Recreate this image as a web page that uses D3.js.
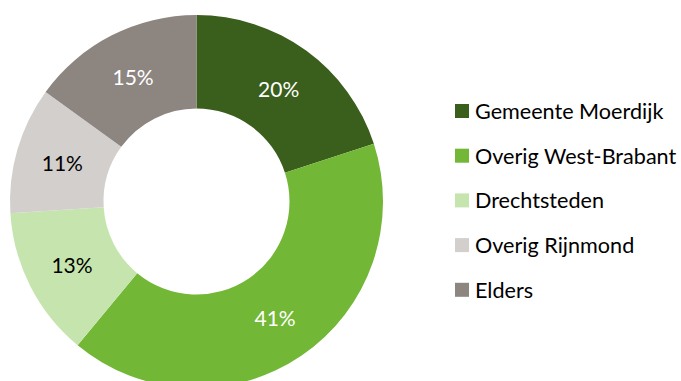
<!DOCTYPE html>
<html>
<head>
<meta charset="utf-8">
<script src="https://cdn.jsdelivr.net/npm/d3@7"></script>
<style>
  html, body { margin: 0; padding: 0; background: #ffffff; }
  svg { display: block; font-family: Lato, "Open Sans", sans-serif; }
</style>
</head>
<body>
<svg id="chart" width="681" height="381"></svg>
<script>
// Herkomst naar regio (aandeel in %)
const categories = ["Gemeente Moerdijk", "Overig West-Brabant", "Drechtsteden", "Overig Rijnmond", "Elders"];
const values = [20, 41, 13, 11, 15];
const colors = ["#3A5E1B", "#72B735", "#C6E5AE", "#D3CFCD", "#8D8580"];
const labelColors = ["#ffffff", "#ffffff", "#000000", "#000000", "#ffffff"];

const svg = d3.select("#chart");
const cx = 196.5, cy = 201.5;
const outerR = 186.5, innerR = 93;

const data = categories.map((c, i) => ({ name: c, value: values[i], color: colors[i], label: labelColors[i] }));

const pie = d3.pie().value(d => d.value).sort(null);
const arc = d3.arc().innerRadius(innerR).outerRadius(outerR);
const labelArc = d3.arc().innerRadius((innerR + outerR) / 2).outerRadius((innerR + outerR) / 2);

const g = svg.append("g").attr("transform", `translate(${cx},${cy})`);
const arcs = pie(data);

g.selectAll("path.slice")
  .data(arcs)
  .join("path")
  .attr("class", "slice")
  .attr("d", arc)
  .attr("fill", d => d.data.color);

g.selectAll("text.val")
  .data(arcs)
  .join("text")
  .attr("class", "val")
  .attr("transform", d => `translate(${labelArc.centroid(d)})`)
  .attr("text-anchor", "middle")
  .attr("dominant-baseline", "central")
  .attr("font-size", 21)
  .attr("fill", d => d.data.label)
  .text(d => d.data.value + "%");

// Legenda
const legend = svg.append("g").attr("transform", "translate(455,111)");
const rowH = 44.7;
const items = legend.selectAll("g.item")
  .data(data)
  .join("g")
  .attr("class", "item")
  .attr("transform", (d, i) => `translate(0,${i * rowH})`);

items.append("rect")
  .attr("x", 0).attr("y", -7)
  .attr("width", 14).attr("height", 14)
  .attr("fill", d => d.color);

items.append("text")
  .attr("x", 20)
  .attr("dominant-baseline", "central")
  .attr("font-size", 21.6)
  .attr("fill", "#000000")
  .text(d => d.name);
</script>
</body>
</html>
